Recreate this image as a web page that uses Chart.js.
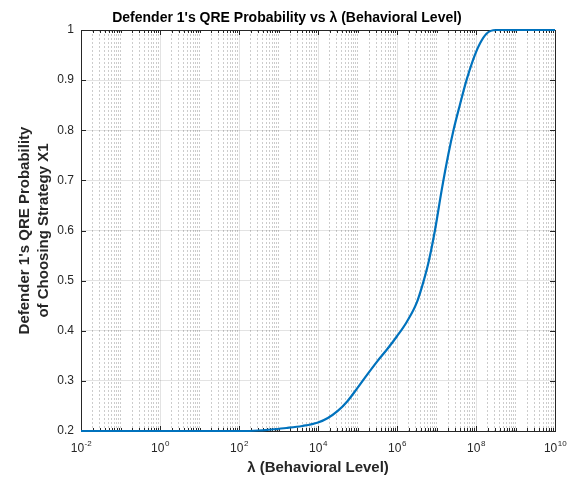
<!DOCTYPE html>
<html>
<head>
<meta charset="utf-8">
<script src="https://cdn.jsdelivr.net/npm/chart.js@4.4.1/dist/chart.umd.min.js"></script>
<style>
  html, body { margin: 0; padding: 0; background: #fff; }
  #wrap { width: 579px; height: 478px; }
</style>
</head>
<body>
<div id="wrap"><canvas id="qreChart" width="579" height="478"></canvas></div>
<script>
// lambda (x, log axis) and probability of choosing X1 (y)
const lambdaValues = [0.01, 1, 100, 316, 631, 1585, 3981, 10000, 17783, 31623, 56234,
    100000, 177828, 316228, 562341, 1000000, 1778279, 3162278, 4677351, 6309573, 9120108,
    13489629, 19952623, 26915348, 38904514, 57543994, 93325430, 125892541, 186208714,
    316227766, 1e9, 1e10];
const probValues = [0.2, 0.2, 0.2, 0.201, 0.203, 0.206, 0.210, 0.217, 0.226, 0.240, 0.260,
    0.286, 0.313, 0.339, 0.363, 0.389, 0.418, 0.456, 0.498, 0.537, 0.600,
    0.680, 0.752, 0.800, 0.850, 0.900, 0.950, 0.973, 0.993,
    1.0, 1.0, 1.0];

// ticks
const yTickValues = [0.2, 0.3, 0.4, 0.5, 0.6, 0.7, 0.8, 0.9, 1];
const xLabelExponents = [-2, 0, 2, 4, 6, 8, 10];

// texts
const chartTitle = "Defender 1's QRE Probability vs \u03bb (Behavioral Level)";
const xAxisTitle = "\u03bb (Behavioral Level)";
const yAxisTitle = ["Defender 1's QRE Probability", "of Choosing Strategy X1"];

const FONT = "'Liberation Sans', Arial, Helvetica, sans-serif";
const AXIS_COLOR = "#262626";

// major decade = labelled one
function isMajor (v) {
    const e = Math.log10(v);
    return Math.abs(e - Math.round(e)) < 1e-9 && xLabelExponents.includes(Math.round(e)); }

// all 1..9 x 10^n ticks on the log axis
function buildLogTicks (scale) {
    let ticks = [];
    for (let e = xLabelExponents[0]; e < xLabelExponents[xLabelExponents.length - 1]; e++) {
        for (let m = 1; m <= 9; m++) { ticks.push({ value: m * Math.pow(10, e) }); } }
    ticks.push({ value: Math.pow(10, xLabelExponents[xLabelExponents.length - 1]) });
    scale.ticks = ticks; }

/* ------------------------------- matlab style box, ticks, labels ------------------------------- */

const matlabAxes = {
    id: "matlabAxes",
    beforeDatasetsDraw (chart) {
        const { ctx, chartArea: a, scales: { x, y } } = chart;
        ctx.save();
        ctx.strokeStyle = AXIS_COLOR;
        ctx.lineWidth = 1;
        ctx.beginPath();
        // inward ticks top & bottom
        for (let t of x.ticks) {
            const px = Math.round(x.getPixelForValue(t.value)) + 0.5;
            const len = isMajor(t.value) ? 5 : 3;
            ctx.moveTo(px, a.bottom); ctx.lineTo(px, a.bottom - len);
            ctx.moveTo(px, a.top); ctx.lineTo(px, a.top + len); }
        // inward ticks left & right
        for (let v of yTickValues) {
            const py = Math.round(y.getPixelForValue(v)) + 0.5;
            ctx.moveTo(a.left, py); ctx.lineTo(a.left + 5, py);
            ctx.moveTo(a.right, py); ctx.lineTo(a.right - 5, py); }
        ctx.stroke();
        ctx.strokeRect(Math.round(a.left) + 0.5, Math.round(a.top) + 0.5,
            Math.round(a.right - a.left), Math.round(a.bottom - a.top));
        ctx.restore(); },
    afterDraw (chart) {
        const { ctx, chartArea: a, scales: { x } } = chart;
        const cx = (a.left + a.right) / 2;
        ctx.save();
        ctx.fillStyle = AXIS_COLOR;
        // x tick labels 10^n
        ctx.textBaseline = "alphabetic";
        ctx.textAlign = "left";
        for (let e of xLabelExponents) {
            const px = x.getPixelForValue(Math.pow(10, e));
            ctx.font = "12px " + FONT;
            const wBase = ctx.measureText("10").width;
            ctx.font = "8px " + FONT;
            const exp = e < 0 ? "-" + Math.abs(e) : String(e);
            const wExp = ctx.measureText(exp).width;
            const left = px - (wBase + wExp) / 2;
            ctx.font = "12px " + FONT;
            ctx.fillText("10", left, 452);
            ctx.font = "8px " + FONT;
            ctx.fillText(exp, left + wBase + 0.5, 446); }
        // title
        ctx.fillStyle = "#000";
        ctx.textAlign = "center";
        ctx.textBaseline = "middle";
        ctx.font = "bold 14px " + FONT;
        ctx.fillText(chartTitle, 287, 18);
        // x axis title
        ctx.fillStyle = AXIS_COLOR;
        ctx.font = "bold 15px " + FONT;
        ctx.fillText(xAxisTitle, cx, 468);
        // y axis title, two lines
        ctx.translate(0, (a.top + a.bottom) / 2);
        ctx.rotate(-Math.PI / 2);
        ctx.fillText(yAxisTitle[0], 0, 25);
        ctx.fillText(yAxisTitle[1], 0, 44);
        ctx.restore(); }
};

/* ----------------------------------------- chart ---------------------------------------------- */

const qreChart = new Chart("qreChart", {
    type: "line",
    data: {
        datasets: [{
            data: lambdaValues.map((v, i) => ({ x: v, y: probValues[i] })),
            borderColor: "#0072BD",
            borderWidth: 2.2,
            pointRadius: 0,
            cubicInterpolationMode: "monotone",
            fill: false,
            clip: 5
        }]
    },
    options: {
        responsive: false,
        animation: false,
        devicePixelRatio: 1,
        layout: { padding: { top: 30, right: 24, left: 0, bottom: 0 } },
        plugins: { legend: { display: false }, title: { display: false }, tooltip: { enabled: false } },
        scales: {
            x: {
                type: "logarithmic",
                min: 0.01,
                max: 1e10,
                afterBuildTicks: buildLogTicks,
                afterFit: (scale) => { scale.height = 47; },
                ticks: { display: false },
                border: {
                    display: false,
                    dash: (c) => (c.tick && isMajor(c.tick.value)) ? [] : [2, 2]
                },
                grid: {
                    drawTicks: false,
                    lineWidth: 1,
                    color: (c) => (c.tick && isMajor(c.tick.value)) ? "rgba(0,0,0,0.11)" : "rgba(0,0,0,0.2)"
                }
            },
            y: {
                type: "linear",
                min: 0.2,
                max: 1,
                afterBuildTicks: (scale) => { scale.ticks = yTickValues.map(v => ({ value: v })); },
                afterFit: (scale) => { scale.width = 81; },
                ticks: {
                    padding: 7,
                    color: AXIS_COLOR,
                    font: { family: FONT, size: 12 },
                    callback: (v) => v === 1 ? "1" : v.toFixed(1)
                },
                border: { display: false },
                grid: { drawTicks: false, lineWidth: 1, color: "rgba(0,0,0,0.11)" }
            }
        }
    },
    plugins: [matlabAxes]
});
</script>
</body>
</html>
